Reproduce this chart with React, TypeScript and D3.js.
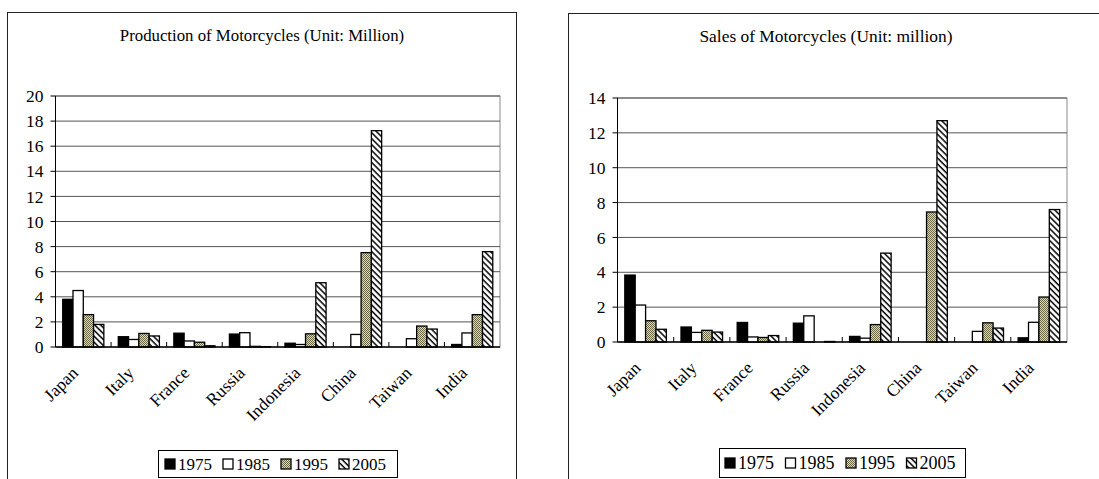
import * as d3 from 'd3';

const categories = ['Japan', 'Italy', 'France', 'Russia', 'Indonesia', 'China', 'Taiwan', 'India'];
const years = ['1975', '1985', '1995', '2005'];

// production, million units
const production1975 = [3.8, 0.82, 1.1, 1.03, 0.3, 0, 0, 0.2];
const production1985 = [4.5, 0.6, 0.48, 1.14, 0.2, 1.0, 0.66, 1.12];
const production1995 = [2.58, 1.08, 0.38, 0.05, 1.05, 7.52, 1.67, 2.58];
const production2005 = [1.8, 0.88, 0.1, 0.03, 5.12, 17.24, 1.43, 7.6];

// sales, million units
const sales1975 = [3.84, 0.86, 1.12, 1.08, 0.32, 0, 0, 0.24];
const sales1985 = [2.12, 0.55, 0.29, 1.5, 0.22, 0, 0.61, 1.13];
const sales1995 = [1.22, 0.67, 0.26, 0, 1.0, 7.46, 1.1, 2.58];
const sales2005 = [0.73, 0.57, 0.37, 0.03, 5.1, 12.7, 0.8, 7.6];

const productionTicks = [0, 2, 4, 6, 8, 10, 12, 14, 16, 18, 20];
const salesTicks = [0, 2, 4, 6, 8, 10, 12, 14];

const FONT = "'Liberation Serif', 'DejaVu Serif', 'Times New Roman', Times, serif";
const FILLS = ['#000', '#fff', 'url(#dots)', 'url(#hatch)'];

interface Frame { x: number; y: number; w: number; h: number }
interface Plot { x0: number; x1: number; top: number; bottom: number }
interface LegendBox extends Frame { start: number; step: number; fontSize: number }

interface BarChartProps {
  title: string;
  titleX: number;
  titleY: number;
  titleSize: number;
  series: number[][];
  ticks: number[];
  frame: Frame;
  plot: Plot;
  legend: LegendBox;
}

function BarChart({ title, titleX, titleY, titleSize, series, ticks, frame, plot, legend }: BarChartProps) {
  const y = d3.scaleLinear().domain([0, d3.max(ticks) ?? 1]).range([plot.bottom, plot.top]);
  const slot = d3.scaleBand<string>().domain(categories).range([plot.x0, plot.x1]);
  const step = slot.step();
  const inner = d3.scaleBand<string>().domain(years).range([step * 0.13, step * 0.87]);

  return (
    <g style={{ fontFamily: FONT }}>
      <rect x={frame.x} y={frame.y} width={frame.w} height={frame.h} fill="#fff" stroke="#222" strokeWidth={1} />
      <text x={titleX} y={titleY} textAnchor="middle" fontSize={titleSize}>{title}</text>

      {/* plot area + gridlines */}
      <rect x={plot.x0} y={plot.top} width={plot.x1 - plot.x0} height={plot.bottom - plot.top} fill="none" stroke="#8a8a8a" />
      {ticks.map(t => (
        <g key={t}>
          {t > 0 && <line x1={plot.x0} x2={plot.x1} y1={y(t)} y2={y(t)} stroke="#555" />}
          <line x1={plot.x0 - 5} x2={plot.x0} y1={y(t)} y2={y(t)} stroke="#000" />
          <text x={plot.x0 - 12} y={y(t)} dy="0.35em" textAnchor="end" fontSize={17.5}>{t}</text>
        </g>
      ))}

      {/* bars */}
      {series.map((vals, si) =>
        vals.map((v, ci) => {
          if (v <= 0) return null;
          const x = (slot(categories[ci]) ?? 0) + (inner(years[si]) ?? 0);
          return (
            <rect
              key={`${si}-${ci}`}
              x={x}
              y={y(v)}
              width={inner.bandwidth()}
              height={y(0) - y(v)}
              fill={FILLS[si]}
              stroke="#000"
              strokeWidth={1.3}
            />
          );
        }),
      )}

      {/* axes */}
      <line x1={plot.x0} x2={plot.x0} y1={plot.top} y2={plot.bottom} stroke="#000" />
      <line x1={plot.x0} x2={plot.x1} y1={plot.bottom} y2={plot.bottom} stroke="#000" strokeWidth={1.3} />
      {categories.map((c, i) => i > 0 && (
        <line key={c} x1={plot.x0 + i * step} x2={plot.x0 + i * step} y1={plot.bottom} y2={plot.bottom - 5} stroke="#000" />
      ))}
      {categories.map(c => {
        const cx = (slot(c) ?? 0) + step / 2;
        return (
          <text
            key={c}
            transform={`translate(${cx - 4},${plot.bottom + 27}) rotate(-45)`}
            textAnchor="end"
            fontSize={17.5}
          >
            {c}
          </text>
        );
      })}

      {/* legend */}
      <rect x={legend.x} y={legend.y} width={legend.w} height={legend.h} fill="#fff" stroke="#000" />
      {years.map((yr, i) => {
        const lx = legend.start + i * legend.step;
        const cy = legend.y + legend.h / 2;
        return (
          <g key={yr}>
            <rect x={lx} y={cy - 5} width={10} height={10} fill={FILLS[i]} stroke="#000" strokeWidth={1.3} />
            <text x={lx + 13} y={cy} dy="0.36em" fontSize={legend.fontSize}>{yr}</text>
          </g>
        );
      })}
    </g>
  );
}

export default function App() {
  return (
    <svg width={1099} height={479} style={{ position: 'absolute', left: 0, top: 0, background: '#fff' }}>
      <defs>
        <pattern id="dots" width={2} height={2} patternUnits="userSpaceOnUse">
          <rect width={2} height={2} fill="#dcd8b4" />
          <rect width={1} height={1} fill="#6b6848" />
          <rect x={1} y={1} width={1} height={1} fill="#6b6848" />
        </pattern>
        <pattern id="hatch" width={4.2} height={4.2} patternUnits="userSpaceOnUse" patternTransform="rotate(-45)">
          <rect width={4.2} height={4.2} fill="#fff" />
          <line x1={1} x2={1} y1={0} y2={4.2} stroke="#000" strokeWidth={1.5} />
        </pattern>
      </defs>
      <BarChart
        title="Production of Motorcycles (Unit: Million)"
        titleX={262}
        titleY={41}
        titleSize={16.8}
        series={[production1975, production1985, production1995, production2005]}
        ticks={productionTicks}
        frame={{ x: 7.5, y: 12.5, w: 509, h: 480 }}
        plot={{ x0: 55.5, x1: 500, top: 96, bottom: 347 }}
        legend={{ x: 158.5, y: 450.5, w: 239, h: 27, start: 165, step: 58, fontSize: 17 }}
      />
      <BarChart
        title="Sales of Motorcycles (Unit: million)"
        titleX={826}
        titleY={42}
        titleSize={17.4}
        series={[sales1975, sales1985, sales1995, sales2005]}
        ticks={salesTicks}
        frame={{ x: 568.5, y: 13.5, w: 540, h: 480 }}
        plot={{ x0: 617.5, x1: 1067, top: 98, bottom: 342 }}
        legend={{ x: 719.5, y: 448.5, w: 246, h: 29, start: 725, step: 60.5, fontSize: 18 }}
      />
    </svg>
  );
}
